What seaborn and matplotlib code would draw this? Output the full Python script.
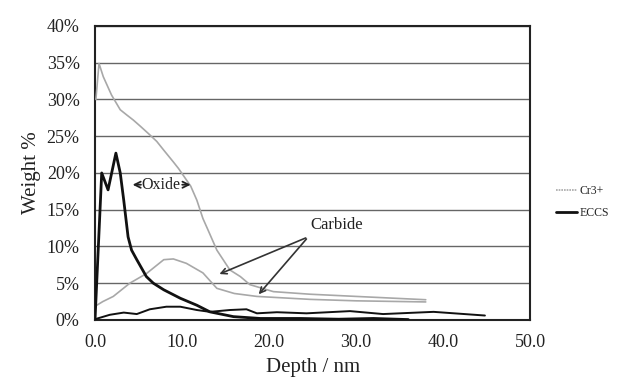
import matplotlib
matplotlib.use("Agg")
import matplotlib.pyplot as plt
import seaborn as sns
import pandas as pd
from matplotlib.ticker import FuncFormatter
from matplotlib.lines import Line2D

# Cr3+ (oxide profile, upper grey)
cr_ox_x = [0.1, 0.46, 0.95, 1.9, 2.9, 3.64, 4.4, 5.17, 6.1, 7.09, 7.9, 9.0, 9.6, 11.0, 11.7, 12.4, 13.0, 14.0, 15.5, 16.7, 17.8, 20.5, 24.7, 30.0, 38.0]
cr_ox_y = [30.0, 34.9, 33.1, 30.6, 28.6, 27.9, 27.2, 26.4, 25.4, 24.3, 23.1, 21.5, 20.6, 18.2, 16.3, 13.8, 12.2, 9.5, 6.8, 5.9, 4.8, 3.85, 3.5, 3.2, 2.75]
# Cr3+ (carbide hump, lower grey)
cr_cb_x = [0.2, 0.9, 2.1, 4.0, 5.9, 7.9, 9.0, 10.5, 12.4, 14.0, 16.0, 18.6, 24.7, 30.0, 38.0]
cr_cb_y = [2.0, 2.5, 3.2, 5.0, 6.3, 8.2, 8.3, 7.7, 6.4, 4.3, 3.6, 3.2, 2.8, 2.6, 2.45]
# ECCS (oxide peaks, thick black)
ec_ox_x = [0.0, 0.77, 1.5, 2.4, 2.9, 3.3, 3.8, 4.2, 4.8, 5.9, 6.7, 7.9, 9.8, 11.7, 13.2, 15.9, 19.0, 23.6, 28.0, 32.0, 36.0]
ec_ox_y = [0.0, 20.0, 17.7, 22.7, 20.0, 16.3, 11.3, 9.5, 8.2, 5.9, 5.0, 4.1, 2.95, 2.0, 1.1, 0.45, 0.2, 0.2, 0.1, 0.2, 0.05]
# ECCS (carbide, thin black)
ec_cb_x = [0.0, 1.7, 3.3, 4.8, 6.3, 8.2, 9.8, 11.7, 13.2, 15.5, 17.4, 18.6, 20.9, 24.3, 29.3, 33.1, 38.9, 44.8]
ec_cb_y = [0.1, 0.7, 1.0, 0.8, 1.45, 1.8, 1.8, 1.35, 1.1, 1.35, 1.45, 0.9, 1.05, 0.9, 1.2, 0.8, 1.1, 0.6]

x_ticks = [0, 10, 20, 30, 40, 50]
y_ticks = [0, 5, 10, 15, 20, 25, 30, 35, 40]

sns.set_theme(style="white")
plt.rcParams['font.family'] = ['Liberation Serif', 'DejaVu Serif']

fig = plt.figure(figsize=(6.23, 3.85), dpi=100)
ax = fig.add_axes([0.1525, 0.169, 0.851 - 0.1525, 0.9325 - 0.169])

grey = '#a8a8a8'
for xs, ys, col, lw in [(cr_ox_x, cr_ox_y, grey, 1.2),
                        (cr_cb_x, cr_cb_y, grey, 1.2),
                        (ec_cb_x, ec_cb_y, '#111111', 1.4),
                        (ec_ox_x, ec_ox_y, '#111111', 2.0)]:
    df = pd.DataFrame({'x': xs, 'y': ys})
    sns.lineplot(data=df, x='x', y='y', ax=ax, color=col, linewidth=lw,
                 sort=False, estimator=None, legend=False, zorder=3)

ax.set_xlim(0, 50)
ax.set_ylim(0, 40)
ax.set_xticks(x_ticks)
ax.set_yticks(y_ticks)
ax.xaxis.set_major_formatter(FuncFormatter(lambda v, p: f"{v:.1f}"))
ax.yaxis.set_major_formatter(FuncFormatter(lambda v, p: f"{v:.0f}%"))
ax.tick_params(axis='both', length=0, labelsize=13, colors='#222222')
ax.tick_params(axis='y', pad=11)
ax.tick_params(axis='x', pad=10)
ax.yaxis.grid(True, color='#666666', linewidth=1.0)
ax.xaxis.grid(False)
ax.set_axisbelow(True)
for s in ax.spines.values():
    s.set_color('#222222')
    s.set_linewidth(1.5)
ax.set_xlabel('Depth / nm', fontsize=15, color='#222222', labelpad=5)
ax.set_ylabel('Weight %', fontsize=15, color='#222222', labelpad=4)

# annotations
ax.text(7.6, 18.4, 'Oxide', ha='center', va='center', fontsize=11.5, color='#222222',
        bbox=dict(facecolor='white', edgecolor='none', pad=0.5), zorder=4)
arrow_kw = dict(arrowstyle='->', color='#222222', lw=1.3, mutation_scale=11)
ax.annotate('', xy=(4.0, 18.4), xytext=(5.6, 18.4), arrowprops=arrow_kw, zorder=5)
ax.annotate('', xy=(11.3, 18.4), xytext=(9.7, 18.4), arrowprops=arrow_kw, zorder=5)

ax.text(27.8, 12.9, 'Carbide', ha='center', va='center', fontsize=12, color='#222222', zorder=4)
arrow_kw2 = dict(arrowstyle='->', color='#333333', lw=1.2, mutation_scale=10)
ax.annotate('', xy=(14.0, 6.1), xytext=(24.5, 11.3), arrowprops=arrow_kw2, zorder=5)
ax.annotate('', xy=(18.6, 3.2), xytext=(24.5, 11.3), arrowprops=arrow_kw2, zorder=5)

handles = [Line2D([0], [0], color=grey, lw=1.2, linestyle=(0, (1, 0.6))),
           Line2D([0], [0], color='#111111', lw=2.0)]
fig.legend(handles, ['Cr3+', 'ECCS'], loc='center left', bbox_to_anchor=(0.885, 0.475),
           frameon=False, fontsize=8.5, handlelength=1.8, handletextpad=0.2,
           labelspacing=0.8, borderaxespad=0)

fig.savefig('out.png', dpi=100)
